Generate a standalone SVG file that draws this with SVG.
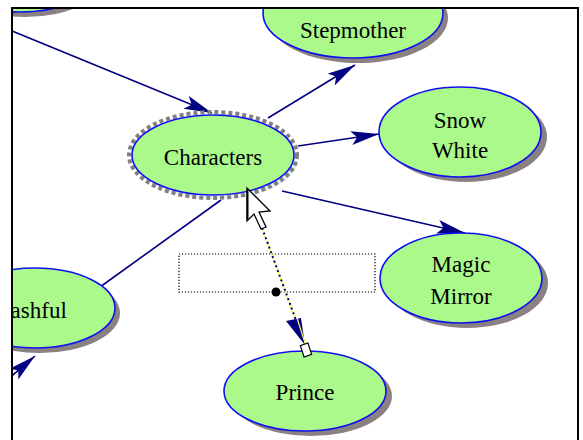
<svg xmlns="http://www.w3.org/2000/svg" width="583" height="440" viewBox="0 0 583 440">
<style>
.shadow{fill:#8a8282;stroke:none}
.node{fill:#aaf98a;stroke:#1010f0;stroke-width:1.6}
.lbl{font-family:"Liberation Serif","Times New Roman",serif;font-size:23px;fill:#000;text-anchor:middle}
.edge{stroke:#000080;stroke-width:1.6;fill:none}
</style>
<defs>
<clipPath id="frame"><rect x="13" y="9" width="564" height="431"/></clipPath>
<marker id="arr" markerUnits="userSpaceOnUse" markerWidth="30" markerHeight="16" refX="28" refY="7" orient="auto">
<path d="M0,0 L28,7 L0,14 L6,7 z" fill="#000080"/>
</marker>
</defs>
<rect width="583" height="440" fill="#fff"/>
<g clip-path="url(#frame)">
<g id="connectors">
<line class="edge" x1="0" y1="26" x2="212" y2="113" marker-end="url(#arr)"/>
<line class="edge" x1="268" y1="118" x2="355" y2="65" marker-end="url(#arr)"/>
<line class="edge" x1="298" y1="146" x2="379" y2="134" marker-end="url(#arr)"/>
<line class="edge" x1="282" y1="191" x2="465" y2="233" marker-end="url(#arr)"/>
<line class="edge" x1="221" y1="200" x2="100" y2="287"/>
<line class="edge" x1="-8" y1="393" x2="35" y2="356" marker-end="url(#arr)"/>
</g>
<g id="node-topleft">
<ellipse class="shadow" cx="25" cy="-23" rx="80" ry="40"/>
<ellipse class="node" cx="20" cy="-28" rx="80" ry="40"/>
</g>
<g id="node-stepmother">
<ellipse class="shadow" cx="358" cy="18" rx="90" ry="45"/>
<ellipse class="node" cx="353" cy="13" rx="90" ry="45"/>
<text class="lbl" x="353" y="38">Stepmother</text>
</g>
<g id="node-snowwhite">
<ellipse class="shadow" cx="466" cy="137" rx="81" ry="45"/>
<ellipse class="node" cx="460" cy="132" rx="81" ry="45"/>
<text class="lbl" x="460" y="128">Snow</text>
<text class="lbl" x="460" y="158">White</text>
</g>
<g id="node-magicmirror">
<ellipse class="shadow" cx="467" cy="283" rx="81" ry="45"/>
<ellipse class="node" cx="461" cy="278" rx="81" ry="45"/>
<text class="lbl" x="461" y="272">Magic</text>
<text class="lbl" x="461" y="304">Mirror</text>
</g>
<g id="node-bashful">
<ellipse class="shadow" cx="40" cy="313" rx="80" ry="40"/>
<ellipse class="node" cx="35" cy="308" rx="80" ry="40"/>
<text class="lbl" x="31" y="318">Bashful</text>
</g>
<g id="node-prince">
<ellipse class="shadow" cx="311" cy="396" rx="81" ry="40"/>
<ellipse class="node" cx="305" cy="391" rx="81" ry="40"/>
<text class="lbl" x="305" y="400">Prince</text>
</g>
<g id="node-characters">
<ellipse cx="217" cy="159" rx="81" ry="40" fill="#e8f0f2"/>
<ellipse cx="213" cy="155" rx="84" ry="43" fill="none" stroke="#808080" stroke-width="4" stroke-dasharray="4 3"/>
<ellipse class="node" cx="213" cy="155" rx="81" ry="40"/>
<text class="lbl" x="213" y="165">Characters</text>
</g>
<g id="selection-edge">
<rect x="179" y="254" width="196" height="38" fill="none" stroke="#000" stroke-width="1.2" stroke-dasharray="1.2 1.8"/>
<line x1="250" y1="195" x2="306" y2="348" stroke="#ffff60" stroke-width="1.5"/>
<line x1="250" y1="195" x2="304" y2="342" stroke="#000080" stroke-width="2" stroke-dasharray="2 3"/>
<path d="M286,321 L305,345 L301,318 Z" fill="#000080"/>
<line x1="297" y1="318" x2="306" y2="346" stroke="#ffff60" stroke-width="1.2"/>
<rect x="-4" y="-6" width="8" height="12" fill="#fff" stroke="#000" stroke-width="1.2" transform="translate(306,350) rotate(-18)"/>
<circle cx="276" cy="292" r="4.5" fill="#000"/>
<path d="M247,188 L247,221 L254,214 L261,229 L266,227 L259,212 L270,211 Z" fill="#fff" stroke="#000" stroke-width="1.3" stroke-linejoin="miter"/>
<line x1="247.5" y1="189" x2="247.5" y2="219" stroke="#000" stroke-width="2"/>
</g>
</g>
<path d="M12,440 L12,8 L578,8 L578,440" fill="none" stroke="#000" stroke-width="2"/>
</svg>
